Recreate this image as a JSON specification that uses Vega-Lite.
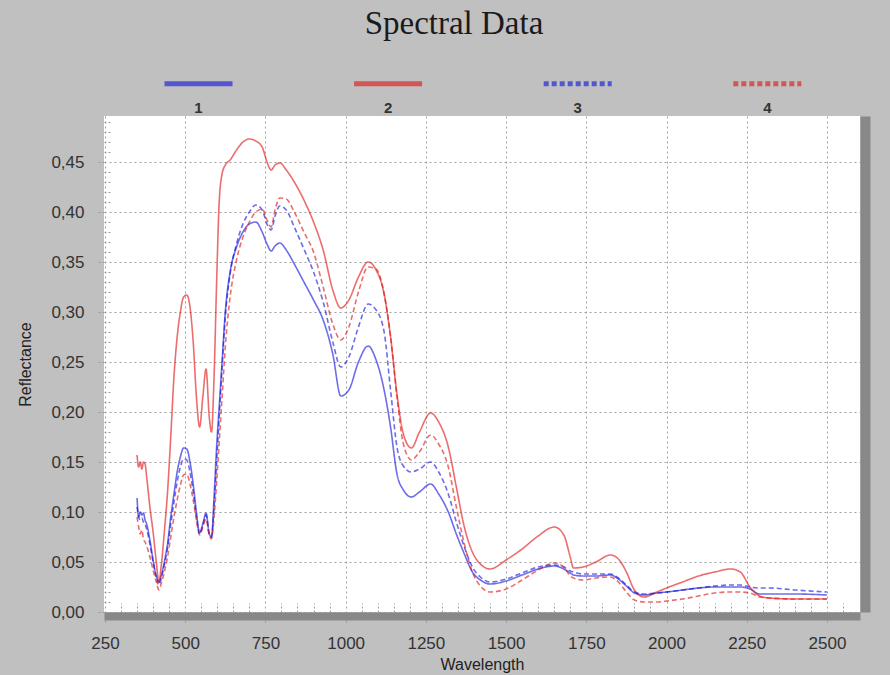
{
  "$schema": "https://vega.github.io/schema/vega-lite/v6.json",
  "width": 756,
  "height": 496,
  "autosize": "none",
  "padding": {"left": 104, "top": 116, "right": 30, "bottom": 63},
  "background": "#c0c0c0",
  "title": {
    "text": "Spectral Data",
    "font": "Liberation Serif",
    "fontSize": 33,
    "fontWeight": "normal",
    "color": "#1a1a1a",
    "anchor": "middle",
    "frame": "group",
    "baseline": "alphabetic",
    "dx": -28,
    "offset": -20
  },
  "data": {
    "values": [
      {"w": 350, "1": 0.114, "2": 0.157, "3": 0.105, "4": 0.095},
      {"w": 355, "1": 0.095, "2": 0.145, "3": 0.095, "4": 0.085},
      {"w": 360, "1": 0.100, "2": 0.150, "3": 0.092, "4": 0.078},
      {"w": 365, "1": 0.097, "2": 0.143, "3": 0.094, "4": 0.082},
      {"w": 370, "1": 0.099, "2": 0.150, "3": 0.090, "4": 0.073},
      {"w": 375, "1": 0.092, "2": 0.148, "3": 0.088, "4": 0.070},
      {"w": 380, "1": 0.088, "2": 0.135, "3": 0.083, "4": 0.066},
      {"w": 390, "1": 0.072, "2": 0.105, "3": 0.068, "4": 0.055},
      {"w": 400, "1": 0.052, "2": 0.080, "3": 0.050, "4": 0.042},
      {"w": 410, "1": 0.036, "2": 0.050, "3": 0.034, "4": 0.030},
      {"w": 418, "1": 0.030, "2": 0.030, "3": 0.027, "4": 0.022},
      {"w": 425, "1": 0.036, "2": 0.045, "3": 0.033, "4": 0.028},
      {"w": 435, "1": 0.050, "2": 0.080, "3": 0.047, "4": 0.040},
      {"w": 445, "1": 0.068, "2": 0.120, "3": 0.064, "4": 0.055},
      {"w": 455, "1": 0.095, "2": 0.175, "3": 0.088, "4": 0.075},
      {"w": 465, "1": 0.118, "2": 0.235, "3": 0.110, "4": 0.095},
      {"w": 475, "1": 0.140, "2": 0.275, "3": 0.130, "4": 0.112},
      {"w": 485, "1": 0.155, "2": 0.300, "3": 0.145, "4": 0.127},
      {"w": 495, "1": 0.164, "2": 0.315, "3": 0.153, "4": 0.137},
      {"w": 505, "1": 0.163, "2": 0.317, "3": 0.152, "4": 0.138},
      {"w": 515, "1": 0.150, "2": 0.305, "3": 0.140, "4": 0.128},
      {"w": 525, "1": 0.128, "2": 0.270, "3": 0.120, "4": 0.112},
      {"w": 535, "1": 0.100, "2": 0.215, "3": 0.095, "4": 0.092},
      {"w": 545, "1": 0.079, "2": 0.185, "3": 0.078, "4": 0.077},
      {"w": 555, "1": 0.088, "2": 0.215, "3": 0.087, "4": 0.085},
      {"w": 565, "1": 0.099, "2": 0.243, "3": 0.097, "4": 0.093},
      {"w": 575, "1": 0.078, "2": 0.195, "3": 0.078, "4": 0.077},
      {"w": 582, "1": 0.075, "2": 0.180, "3": 0.075, "4": 0.073},
      {"w": 590, "1": 0.115, "2": 0.235, "3": 0.105, "4": 0.095},
      {"w": 598, "1": 0.165, "2": 0.330, "3": 0.150, "4": 0.130},
      {"w": 606, "1": 0.205, "2": 0.410, "3": 0.195, "4": 0.170},
      {"w": 615, "1": 0.250, "2": 0.438, "3": 0.245, "4": 0.215},
      {"w": 625, "1": 0.300, "2": 0.447, "3": 0.295, "4": 0.265},
      {"w": 640, "1": 0.340, "2": 0.452, "3": 0.338, "4": 0.315},
      {"w": 660, "1": 0.365, "2": 0.462, "3": 0.368, "4": 0.352},
      {"w": 680, "1": 0.380, "2": 0.470, "3": 0.388, "4": 0.375},
      {"w": 700, "1": 0.388, "2": 0.473, "3": 0.400, "4": 0.390},
      {"w": 720, "1": 0.390, "2": 0.471, "3": 0.407, "4": 0.400},
      {"w": 740, "1": 0.380, "2": 0.465, "3": 0.402, "4": 0.403},
      {"w": 755, "1": 0.368, "2": 0.450, "3": 0.388, "4": 0.392},
      {"w": 768, "1": 0.361, "2": 0.442, "3": 0.382, "4": 0.385},
      {"w": 780, "1": 0.366, "2": 0.447, "3": 0.396, "4": 0.402},
      {"w": 795, "1": 0.369, "2": 0.449, "3": 0.406, "4": 0.414},
      {"w": 815, "1": 0.362, "2": 0.442, "3": 0.402, "4": 0.413},
      {"w": 840, "1": 0.348, "2": 0.430, "3": 0.385, "4": 0.400},
      {"w": 870, "1": 0.330, "2": 0.412, "3": 0.363, "4": 0.380},
      {"w": 900, "1": 0.312, "2": 0.390, "3": 0.340, "4": 0.360},
      {"w": 930, "1": 0.292, "2": 0.362, "3": 0.310, "4": 0.325},
      {"w": 960, "1": 0.258, "2": 0.322, "3": 0.270, "4": 0.288},
      {"w": 985, "1": 0.216, "2": 0.304, "3": 0.245, "4": 0.272},
      {"w": 1010, "1": 0.222, "2": 0.312, "3": 0.255, "4": 0.285},
      {"w": 1040, "1": 0.250, "2": 0.335, "3": 0.285, "4": 0.320},
      {"w": 1070, "1": 0.266, "2": 0.350, "3": 0.308, "4": 0.345},
      {"w": 1095, "1": 0.252, "2": 0.342, "3": 0.302, "4": 0.343},
      {"w": 1120, "1": 0.222, "2": 0.318, "3": 0.280, "4": 0.318},
      {"w": 1140, "1": 0.185, "2": 0.275, "3": 0.222, "4": 0.276},
      {"w": 1160, "1": 0.138, "2": 0.218, "3": 0.165, "4": 0.215},
      {"w": 1180, "1": 0.122, "2": 0.178, "3": 0.146, "4": 0.168},
      {"w": 1205, "1": 0.115, "2": 0.164, "3": 0.140, "4": 0.152},
      {"w": 1230, "1": 0.120, "2": 0.180, "3": 0.143, "4": 0.160},
      {"w": 1265, "1": 0.128, "2": 0.199, "3": 0.150, "4": 0.177},
      {"w": 1290, "1": 0.118, "2": 0.190, "3": 0.140, "4": 0.168},
      {"w": 1320, "1": 0.100, "2": 0.165, "3": 0.118, "4": 0.145},
      {"w": 1345, "1": 0.078, "2": 0.125, "3": 0.090, "4": 0.105},
      {"w": 1370, "1": 0.058, "2": 0.085, "3": 0.065, "4": 0.068},
      {"w": 1395, "1": 0.040, "2": 0.060, "3": 0.045, "4": 0.040},
      {"w": 1420, "1": 0.032, "2": 0.048, "3": 0.035, "4": 0.026},
      {"w": 1450, "1": 0.028, "2": 0.043, "3": 0.030, "4": 0.020},
      {"w": 1500, "1": 0.031, "2": 0.052, "3": 0.033, "4": 0.023},
      {"w": 1550, "1": 0.037, "2": 0.063, "3": 0.039, "4": 0.032},
      {"w": 1600, "1": 0.043, "2": 0.076, "3": 0.045, "4": 0.042},
      {"w": 1650, "1": 0.046, "2": 0.085, "3": 0.047, "4": 0.049},
      {"w": 1680, "1": 0.043, "2": 0.077, "3": 0.045, "4": 0.045},
      {"w": 1700, "1": 0.039, "2": 0.055, "3": 0.041, "4": 0.036},
      {"w": 1710, "1": 0.037, "2": 0.044, "3": 0.040, "4": 0.034},
      {"w": 1740, "1": 0.036, "2": 0.045, "3": 0.038, "4": 0.032},
      {"w": 1780, "1": 0.036, "2": 0.050, "3": 0.038, "4": 0.034},
      {"w": 1825, "1": 0.037, "2": 0.057, "3": 0.038, "4": 0.035},
      {"w": 1850, "1": 0.033, "2": 0.053, "3": 0.034, "4": 0.030},
      {"w": 1875, "1": 0.026, "2": 0.040, "3": 0.027, "4": 0.020},
      {"w": 1900, "1": 0.019, "2": 0.022, "3": 0.020, "4": 0.012},
      {"w": 1930, "1": 0.017, "2": 0.015, "3": 0.018, "4": 0.010},
      {"w": 1970, "1": 0.019, "2": 0.020, "3": 0.019, "4": 0.010},
      {"w": 2000, "1": 0.020, "2": 0.024, "3": 0.020, "4": 0.011},
      {"w": 2050, "1": 0.022, "2": 0.030, "3": 0.022, "4": 0.013},
      {"w": 2100, "1": 0.024, "2": 0.036, "3": 0.024, "4": 0.016},
      {"w": 2150, "1": 0.025, "2": 0.040, "3": 0.026, "4": 0.019},
      {"w": 2200, "1": 0.025, "2": 0.043, "3": 0.027, "4": 0.020},
      {"w": 2230, "1": 0.025, "2": 0.040, "3": 0.027, "4": 0.020},
      {"w": 2260, "1": 0.023, "2": 0.025, "3": 0.025, "4": 0.019},
      {"w": 2290, "1": 0.018, "2": 0.016, "3": 0.024, "4": 0.015},
      {"w": 2320, "1": 0.018, "2": 0.014, "3": 0.024, "4": 0.014},
      {"w": 2400, "1": 0.018, "2": 0.013, "3": 0.022, "4": 0.013},
      {"w": 2500, "1": 0.017, "2": 0.013, "3": 0.020, "4": 0.013}
    ]
  },
  "transform": [{"fold": ["1", "2", "3", "4"], "as": ["series", "R"]}],
  "layer": [
    {
      "mark": {"type": "line", "interpolate": "monotone", "strokeWidth": 1.6, "opacity": 0.62},
      "encoding": {
        "x": {
          "field": "w",
          "type": "quantitative",
          "scale": {"domain": [247, 2603], "nice": false, "zero": false},
          "axis": {
            "title": "Wavelength",
            "values": [250, 500, 750, 1000, 1250, 1500, 1750, 2000, 2250, 2500],
            "format": "d",
            "labelFlush": false,
            "offset": 4,
            "domain": true,
            "domainColor": "#888888",
            "domainWidth": 8,
            "ticks": true,
            "tickSize": 8,
            "tickColor": "#999999",
            "tickDash": [2, 2],
            "labelPadding": 11,
            "titlePadding": 5,
            "grid": true
          }
        },
        "y": {
          "field": "R",
          "type": "quantitative",
          "scale": {"domain": [0, 0.496], "nice": false},
          "axis": {
            "title": "Reflectance",
            "values": [0, 0.05, 0.1, 0.15, 0.2, 0.25, 0.3, 0.35, 0.4, 0.45],
            "labelExpr": "replace(format(datum.value, '.2f'), '.', ',')",
            "labelFlush": false,
            "domain": false,
            "tickSize": 7,
            "tickColor": "#999999",
            "tickDash": [2, 2],
            "labelPadding": 13,
            "titlePadding": 17,
            "grid": true
          }
        },
        "color": {
          "field": "series",
          "type": "nominal",
          "scale": {"domain": ["1", "2", "3", "4"], "range": ["#1414dc", "#e01414", "#1414dc", "#e01414"]},
          "legend": {
            "title": null,
            "orient": "none",
            "legendX": 58,
            "legendY": -69,
            "direction": "horizontal",
            "columns": 4,
            "gridAlign": "all",
            "padding": 0,
            "columnPadding": 100.6,
            "symbolType": "stroke",
            "symbolSize": 4624,
            "symbolStrokeWidth": 5,
            "symbolOpacity": 1,
            "labelFont": "Liberation Sans",
            "labelFontSize": 15,
            "labelFontWeight": "bold",
            "labelColor": "#333333",
            "labelAlign": "center",
            "labelBaseline": "top",
            "labelOffset": -36.5,
            "labelExpr": "['', datum.label]"
          }
        },
        "strokeDash": {
          "field": "series",
          "type": "nominal",
          "scale": {"domain": ["1", "2", "3", "4"], "range": [[1, 0], [1, 0], [5, 3], [5, 3]]}
        }
      }
    },
    {
      "mark": {"type": "line", "opacity": 0},
      "encoding": {
        "x": {"field": "w", "type": "quantitative", "axis": null},
        "y": {
          "field": "R",
          "type": "quantitative",
          "axis": {
            "orient": "right",
            "title": null,
            "labels": false,
            "ticks": false,
            "grid": false,
            "domain": true,
            "domainColor": "#888888",
            "domainWidth": 10,
            "offset": 5
          }
        },
        "detail": {"field": "series"}
      }
    },
    {
      "mark": {"type": "line", "opacity": 0},
      "encoding": {
        "x": {
          "field": "w",
          "type": "quantitative",
          "axis": {
            "orient": "bottom",
            "title": null,
            "labels": false,
            "domain": false,
            "grid": false,
            "ticks": true,
            "tickSize": -9,
            "tickColor": "#9a9a9a",
            "tickDash": [2, 2],
            "values": [300, 350, 400, 450, 550, 600, 650, 700, 800, 850, 900, 950, 1050, 1100, 1150, 1200, 1300, 1350, 1400, 1450, 1550, 1600, 1650, 1700, 1800, 1850, 1900, 1950, 2050, 2100, 2150, 2200, 2300, 2350, 2400, 2450, 2550]
          }
        },
        "y": {
          "field": "R",
          "type": "quantitative",
          "axis": {
            "orient": "left",
            "title": null,
            "labels": false,
            "domain": false,
            "grid": false,
            "ticks": true,
            "tickSize": -8,
            "tickColor": "#9a9a9a",
            "tickDash": [2, 2],
            "values": [0.01, 0.02, 0.03, 0.04, 0.06, 0.07, 0.08, 0.09, 0.11, 0.12, 0.13, 0.14, 0.16, 0.17, 0.18, 0.19, 0.21, 0.22, 0.23, 0.24, 0.26, 0.27, 0.28, 0.29, 0.31, 0.32, 0.33, 0.34, 0.36, 0.37, 0.38, 0.39, 0.41, 0.42, 0.43, 0.44, 0.46, 0.47, 0.48, 0.49]
          }
        },
        "detail": {"field": "series"}
      }
    }
  ],
  "resolve": {"axis": {"x": "independent", "y": "independent"}},
  "config": {
    "view": {"fill": "white", "stroke": null},
    "axis": {
      "labelFont": "Liberation Sans",
      "labelFontSize": 17,
      "labelColor": "#333333",
      "titleFont": "Liberation Sans",
      "titleFontSize": 16,
      "titleFontWeight": "normal",
      "titleColor": "#222222",
      "gridColor": "#a0a0a0",
      "gridDash": [2, 3],
      "gridWidth": 1,
      "gridOpacity": 1
    }
  }
}
